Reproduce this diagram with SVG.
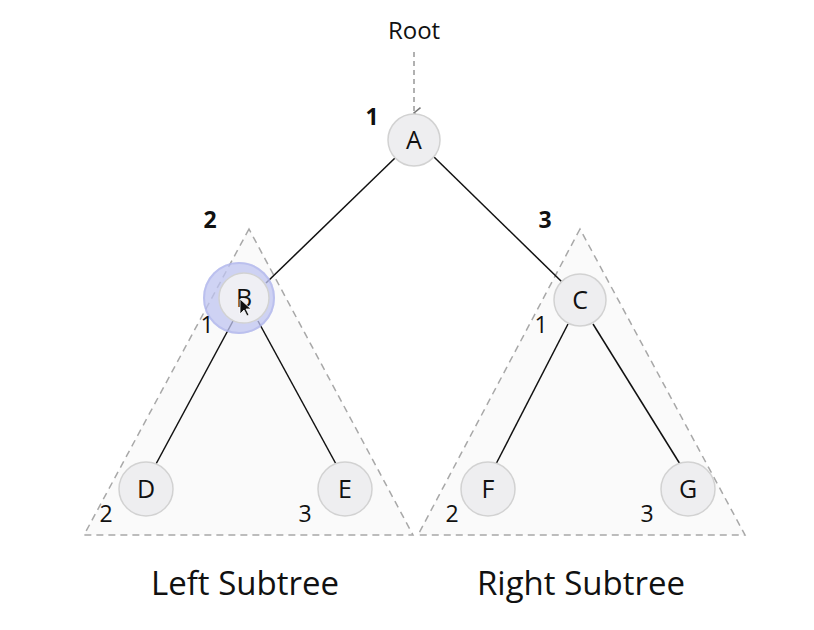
<svg xmlns="http://www.w3.org/2000/svg" width="814" height="630" viewBox="0 0 814 630">
<defs>
<style>
.tri{fill:#fafafa;stroke:#a8a8a8;stroke-width:1.5;stroke-dasharray:7,5}
.node circle{fill:#eeeef0;stroke:#d2d2d2;stroke-width:1.5}
.node text{font-family:"Open Sans","Noto Sans",sans-serif;font-size:25px;fill:#111;text-anchor:middle}
.edge{stroke:#111;stroke-width:1.5;fill:none}
.num{font-family:"Open Sans","Noto Sans",sans-serif;font-size:23px;fill:#111;text-anchor:middle}
.big{font-weight:bold}
.title{font-family:"Open Sans","Noto Sans",sans-serif;font-size:33px;fill:#111;text-anchor:middle}
</style>
<marker id="open" viewBox="0 0 12 12" refX="6" refY="11" markerWidth="13" markerHeight="13" markerUnits="userSpaceOnUse" orient="auto-start-reverse">
<path d="M1,5 L6,11 L11,5" fill="none" stroke="#777" stroke-width="1.4"/>
</marker>
</defs>
<rect width="814" height="630" fill="#fff"/>
<g id="subtrees">
<polygon class="tri" points="249,229 84,535 413,535"/>
<polygon class="tri" points="580,229 418,535 745,535"/>
</g>
<g id="connectors">
<line class="edge" x1="395" y1="158" x2="266" y2="283"/>
<line class="edge" x1="434" y1="157" x2="562" y2="282"/>
<line class="edge" x1="233" y1="321" x2="156" y2="464"/>
<line class="edge" x1="258" y1="321" x2="336" y2="464"/>
<line class="edge" x1="568" y1="324" x2="496" y2="464"/>
<line class="edge" x1="593" y1="324" x2="680" y2="464"/>
<line x1="414" y1="52" x2="414" y2="113" stroke="#888" stroke-width="1.3" stroke-dasharray="5,4" marker-end="url(#open)"/>
</g>
<text x="414" y="39" class="title" style="font-size:24px">Root</text>
<g id="highlight">
<circle cx="239" cy="298" r="36" fill="#bfc4f0" opacity="0.75"/>
<circle cx="239" cy="298" r="35" fill="none" stroke="#a8aeea" stroke-width="2" opacity="0.5"/>
</g>
<g id="A" class="node"><circle cx="414" cy="140" r="26"/><text x="414" y="149">A</text></g>
<g id="B" class="node"><circle cx="244" cy="298" r="25" style="fill:#efeff4"/><text x="244" y="307">B</text></g>
<g id="C" class="node"><circle cx="580" cy="300" r="26"/><text x="580" y="309">C</text></g>
<g id="D" class="node"><circle cx="146" cy="489" r="27"/><text x="146" y="498">D</text></g>
<g id="E" class="node"><circle cx="345" cy="489" r="27"/><text x="345" y="498">E</text></g>
<g id="F" class="node"><circle cx="488" cy="489" r="27"/><text x="488" y="498">F</text></g>
<g id="G" class="node"><circle cx="688" cy="489" r="27"/><text x="688" y="498">G</text></g>
<path d="M240,299 L240,314 L244,310 L247,316 L249,315 L246,309 L251,309 Z" fill="#111" stroke="#fff" stroke-width="0.8"/>
<g id="labels">
<text x="372" y="125" class="num big">1</text>
<text x="210" y="228" class="num big">2</text>
<text x="545" y="228" class="num big">3</text>
<text x="207" y="333" class="num">1</text>
<text x="541" y="333" class="num">1</text>
<text x="106" y="522" class="num">2</text>
<text x="305" y="522" class="num">3</text>
<text x="452" y="522" class="num">2</text>
<text x="647" y="522" class="num">3</text>
</g>
<text x="245" y="595" class="title">Left Subtree</text>
<text x="581" y="595" class="title">Right Subtree</text>
</svg>
